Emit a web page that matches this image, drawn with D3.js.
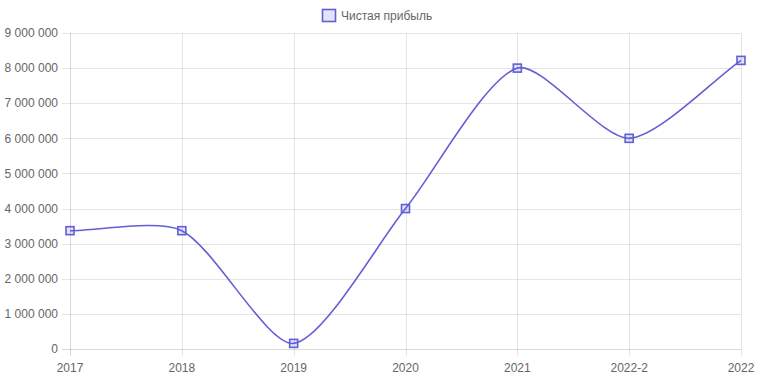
<!DOCTYPE html>
<html><head><meta charset="utf-8">
<script src="https://cdn.jsdelivr.net/npm/d3@7"></script>
<style>
html,body{margin:0;padding:0;background:#fff;}
svg{display:block;font-family:"Liberation Sans",Arial,Helvetica,sans-serif;}
</style></head>
<body>
<svg id="chart" width="758" height="379"></svg>
<script>
const categories = ["2017","2018","2019","2020","2021","2022-2","2022"];
const profit = [3370000, 3370000, 160000, 4000000, 8000000, 6000000, 8220000];
const seriesName = "Чистая прибыль";
const yTicks = [0,1000000,2000000,3000000,4000000,5000000,6000000,7000000,8000000,9000000];

(function(){
const lineColor = "rgb(98,94,212)";
const fillColor = "rgba(100,100,230,0.18)";
const gridColor = "rgba(0,0,0,0.1)";
const textColor = "#666";

const svg = d3.select("#chart");
const pl = 70, pr = 741, pt = 33, pb = 349;

const x = d3.scalePoint().domain(categories).range([pl, pr]);
const y = d3.scaleLinear().domain([0, 9000000]).range([pb, pt]);
const fmt = v => d3.format(",")(v).replace(/,/g, " ");

const g = svg.append("g");
g.selectAll("line.h").data(yTicks).join("line")
  .attr("x1", pl - 8).attr("x2", pr)
  .attr("y1", d => Math.round(y(d)) + 0.5).attr("y2", d => Math.round(y(d)) + 0.5)
  .attr("stroke", d => d === 0 ? "rgba(0,0,0,0.15)" : gridColor).attr("stroke-width", 1);
g.selectAll("line.v").data(categories).join("line")
  .attr("x1", d => Math.round(x(d)) + 0.5).attr("x2", d => Math.round(x(d)) + 0.5)
  .attr("y1", pt).attr("y2", pb + 7)
  .attr("stroke", (d,i) => i === 0 ? "rgba(0,0,0,0.15)" : gridColor).attr("stroke-width", 1);

g.selectAll("text.y").data(yTicks).join("text")
  .attr("x", pl - 12).attr("y", d => y(d)).attr("dy", "0.35em")
  .attr("text-anchor", "end").attr("font-size", 12).attr("fill", textColor)
  .text(fmt);
g.selectAll("text.x").data(categories).join("text")
  .attr("x", d => x(d)).attr("y", pb + 23)
  .attr("text-anchor", "middle").attr("font-size", 12).attr("fill", textColor)
  .text(d => d);

const pts = categories.map((c,i) => ({x: x(c), y: y(profit[i])}));
const t = 0.25;
const cps = pts.map((p,i) => {
  const prev = i > 0 ? pts[i-1] : p;
  const next = i < pts.length-1 ? pts[i+1] : p;
  const d01 = Math.hypot(p.x-prev.x, p.y-prev.y);
  const d12 = Math.hypot(next.x-p.x, next.y-p.y);
  let s01 = d01/(d01+d12), s12 = d12/(d01+d12);
  if (isNaN(s01)) s01 = 0; if (isNaN(s12)) s12 = 0;
  const fa = t*s01, fb = t*s12;
  const clampY = v => Math.max(pt, Math.min(pb, v));
  return {
    px: p.x - fa*(next.x-prev.x), py: clampY(p.y - fa*(next.y-prev.y)),
    nx: p.x + fb*(next.x-prev.x), ny: clampY(p.y + fb*(next.y-prev.y))
  };
});
const path = d3.path();
path.moveTo(pts[0].x, pts[0].y);
for (let i = 1; i < pts.length; i++) {
  path.bezierCurveTo(cps[i-1].nx, cps[i-1].ny, cps[i].px, cps[i].py, pts[i].x, pts[i].y);
}
svg.append("path").attr("d", path.toString())
  .attr("fill", "none").attr("stroke", lineColor).attr("stroke-width", 1.6);

svg.selectAll("rect.pt").data(pts).join("rect")
  .attr("x", d => d.x - 4).attr("y", d => d.y - 4).attr("width", 8).attr("height", 8)
  .attr("fill", fillColor).attr("stroke", lineColor).attr("stroke-width", 1.6);

const lg = svg.append("g");
lg.append("rect").attr("x", 322.5).attr("y", 9.5).attr("width", 13).attr("height", 12)
  .attr("fill", fillColor).attr("stroke", lineColor).attr("stroke-width", 1.6);
lg.append("text").attr("x", 341).attr("y", 16).attr("dy", "0.35em")
  .attr("font-size", 12).attr("fill", textColor).text(seriesName);
})();
</script>
</body></html>
